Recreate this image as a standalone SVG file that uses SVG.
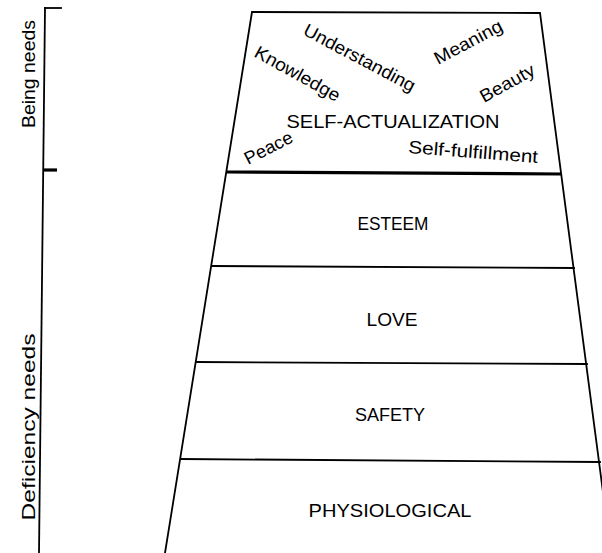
<svg xmlns="http://www.w3.org/2000/svg" width="602" height="553" viewBox="0 0 602 553">
<style>
.ln{stroke:#000;stroke-width:1.8;fill:none;stroke-linecap:square}
.thick{stroke:#000;stroke-width:3.2;fill:none}
.lbl{font-family:"Liberation Sans",Arial,sans-serif;font-size:18px;fill:#000;text-anchor:middle}
.w{font-family:"Liberation Sans",Arial,sans-serif;font-size:18px;fill:#000}
.side{font-family:"Liberation Sans",Arial,sans-serif;font-size:19px;fill:#000;text-anchor:middle}
</style>
<rect width="602" height="553" fill="#fff"/>
<g id="pyramid-frame">
<path class="ln" d="M165,553 L252,12 L540,13 L611,553"/>
</g>
<g id="connectors">
<line class="thick" x1="227" y1="172" x2="561" y2="174"/>
<line class="ln" x1="212" y1="266" x2="574" y2="268"/>
<line class="ln" x1="197" y1="362" x2="587" y2="364"/>
<line class="ln" x1="181" y1="459" x2="600" y2="462"/>
</g>
<g id="bracket">
<line class="ln" x1="45" y1="8" x2="39" y2="553"/>
<line class="ln" x1="45" y1="8" x2="61" y2="8"/>
<line class="thick" x1="44" y1="170" x2="57" y2="170"/>
<text class="side" transform="translate(35,74) rotate(-90)" textLength="108" lengthAdjust="spacingAndGlyphs">Being needs</text>
<text class="side" transform="translate(35,427) rotate(-90)" textLength="187" lengthAdjust="spacingAndGlyphs">Deficiency needs</text>
</g>
<g id="self-actualization">
<text class="lbl" x="393" y="128" textLength="213" lengthAdjust="spacingAndGlyphs">SELF-ACTUALIZATION</text>
<text class="w" transform="translate(302,34) rotate(28)" textLength="124" lengthAdjust="spacingAndGlyphs">Understanding</text>
<text class="w" transform="translate(253,56) rotate(29)" textLength="95" lengthAdjust="spacingAndGlyphs">Knowledge</text>
<text class="w" transform="translate(438,65) rotate(-28)" textLength="75" lengthAdjust="spacingAndGlyphs">Meaning</text>
<text class="w" transform="translate(484,103) rotate(-29)" textLength="60" lengthAdjust="spacingAndGlyphs">Beauty</text>
<text class="w" transform="translate(248,165) rotate(-27)" textLength="52" lengthAdjust="spacingAndGlyphs">Peace</text>
<text class="w" transform="translate(408,153) rotate(4.4)" textLength="130" lengthAdjust="spacingAndGlyphs">Self-fulfillment</text>
</g>
<g id="esteem"><text class="lbl" x="393" y="230" textLength="71" lengthAdjust="spacingAndGlyphs">ESTEEM</text></g>
<g id="love"><text class="lbl" x="392" y="326" textLength="51" lengthAdjust="spacingAndGlyphs">LOVE</text></g>
<g id="safety"><text class="lbl" x="390" y="421" textLength="70" lengthAdjust="spacingAndGlyphs">SAFETY</text></g>
<g id="physiological"><text class="lbl" x="390" y="517" textLength="163" lengthAdjust="spacingAndGlyphs">PHYSIOLOGICAL</text></g>
</svg>
